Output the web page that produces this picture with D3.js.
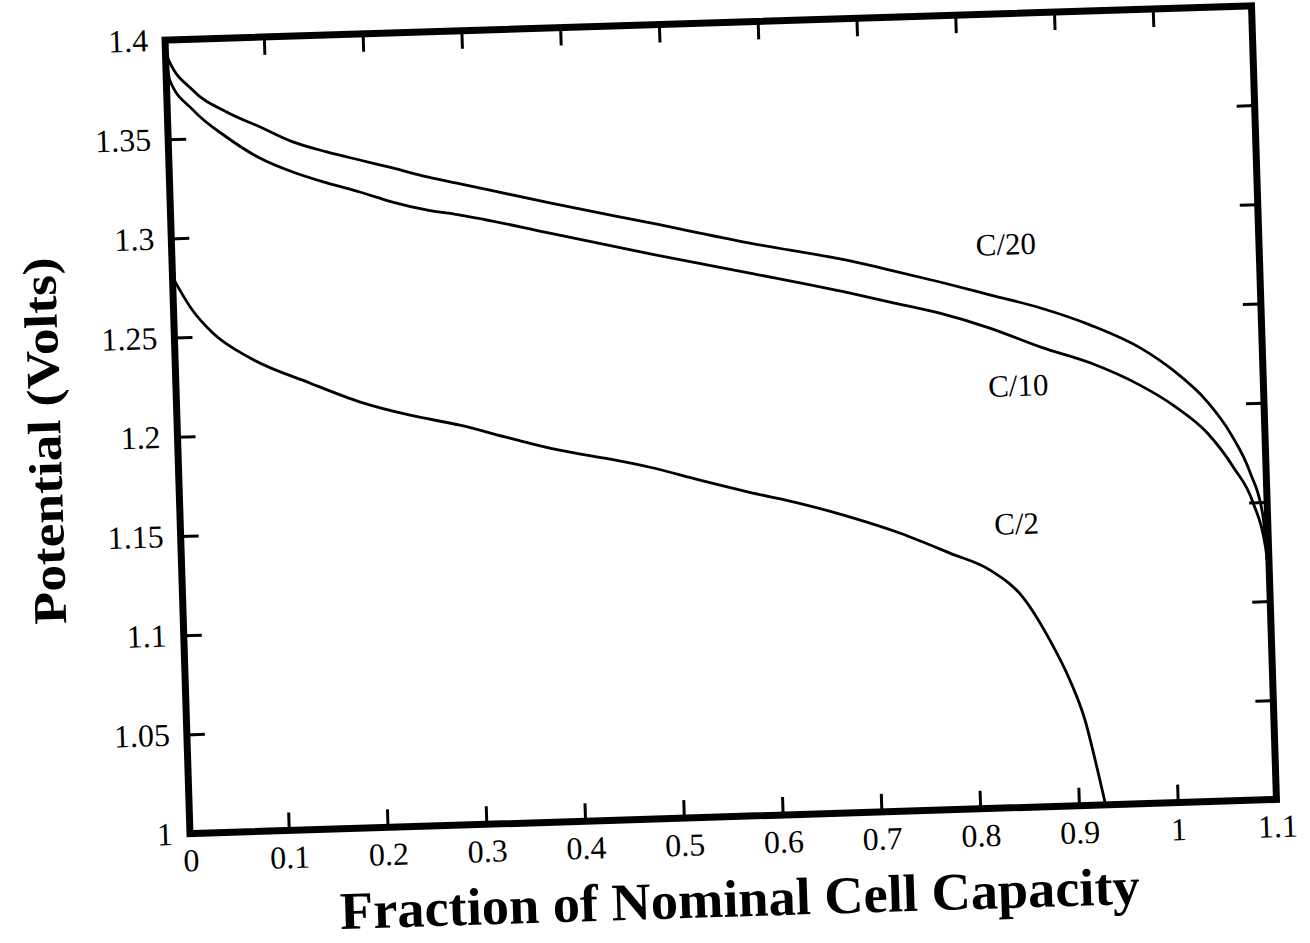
<!DOCTYPE html>
<html><head><meta charset="utf-8">
<script src="https://cdn.jsdelivr.net/npm/d3@7"></script>
<style>html,body{margin:0;padding:0;background:#fff;}svg{display:block;}</style>
</head><body>
<svg id="chart" width="1310" height="943"></svg>
<script>
// ---- data ----
const xTickValues = [0,0.1,0.2,0.3,0.4,0.5,0.6,0.7,0.8,0.9,1,1.1];
const xTickLabels = ["0","0.1","0.2","0.3","0.4","0.5","0.6","0.7","0.8","0.9","1","1.1"];
const yTickValues = [1,1.05,1.1,1.15,1.2,1.25,1.3,1.35,1.4];
const yTickLabels = ["1","1.05","1.1","1.15","1.2","1.25","1.3","1.35","1.4"];
const seriesNames = ["C/20","C/10","C/2"];
const c20x = [0,0.001,0.026,0.060,0.093,0.126,0.160,0.193,0.226,0.261,0.294,0.384,0.485,0.585,0.686,0.726,0.776,0.827,0.877,0.927,0.977,1.009,1.043,1.065,1.084,1.095,1.099];
const c20y = [1.397,1.3925,1.3745,1.3628,1.3548,1.3467,1.3411,1.3365,1.3320,1.3269,1.3229,1.3119,1.3002,1.2885,1.2779,1.2727,1.2659,1.2585,1.2512,1.2418,1.2294,1.2178,1.2012,1.1852,1.1647,1.1443,1.116];
const c10x = [0,0.001,0.0034,0.026,0.059,0.092,0.125,0.159,0.192,0.225,0.259,0.293,0.383,0.484,0.584,0.685,0.725,0.775,0.825,0.876,0.926,0.975,1.008,1.042,1.067,1.086,1.097,1.099];
const c10y = [1.392,1.3885,1.3798,1.3644,1.3502,1.3391,1.3315,1.3255,1.3204,1.3148,1.3103,1.3072,1.2967,1.2846,1.2734,1.2617,1.2566,1.2502,1.2419,1.2315,1.2227,1.2108,1.2002,1.1855,1.1680,1.1495,1.127,1.116];
const c2x = [0,0.019,0.039,0.076,0.136,0.186,0.236,0.286,0.336,0.386,0.437,0.477,0.527,0.577,0.627,0.678,0.728,0.778,0.818,0.850,0.876,0.895,0.909,0.918,0.927];
const c2y = [1.2805,1.2636,1.2517,1.2385,1.2249,1.2146,1.2072,1.2014,1.1941,1.1872,1.1819,1.1772,1.1699,1.1630,1.1567,1.1489,1.1400,1.1291,1.1199,1.1058,1.0837,1.0632,1.0428,1.0225,1.0];
const labelX = [0.844,0.852,0.846];
const labelY = [1.284,1.2127,1.1432];
const xTitle = "Fraction of Nominal Cell Capacity";
const yTitle = "Potential (Volts)";

// ---- layout ----
const W = 1087, H = 794;
const cx = 720.75, cy = 419.75;
const svg = d3.select("#chart");
const outer = svg.append("g").attr("transform", `rotate(-1.8, ${cx}, ${cy})`);
const g = outer.append("g").attr("transform", `translate(${cx - W/2},${cy - H/2})`);

const x = d3.scaleLinear().domain([0,1.1]).range([0,W]);
const y = d3.scaleLinear().domain([1,1.4]).range([H,0]);

const font = "'Liberation Serif','Times New Roman',serif";
const tickLen = 18;

function styleAxis(sel){
  sel.select(".domain").remove();
  sel.selectAll(".tick line").attr("stroke","#000").attr("stroke-width",3);
  sel.selectAll(".tick text").attr("fill","#000").style("font-family",font).style("font-size","32px");
}

const fmtX = (d,i)=>xTickLabels[i];
const fmtY = (d,i)=>yTickLabels[i];

g.append("g").attr("transform",`translate(0,${H})`)
  .call(d3.axisBottom(x).tickValues(xTickValues).tickFormat(fmtX).tickSize(-tickLen).tickPadding(15))
  .call(styleAxis);
g.append("g")
  .call(d3.axisLeft(y).tickValues(yTickValues).tickFormat(fmtY).tickSize(-tickLen).tickPadding(17))
  .call(styleAxis);
g.append("g")
  .call(d3.axisTop(x).tickValues(xTickValues).tickFormat("").tickSize(-tickLen))
  .call(styleAxis);
g.append("g").attr("transform",`translate(${W},0)`)
  .call(d3.axisRight(y).tickValues(yTickValues).tickFormat("").tickSize(-tickLen))
  .call(styleAxis);

// curves
const line = d3.line().x(d=>x(d[0])).y(d=>y(d[1])).curve(d3.curveMonotoneX);
const series = [d3.zip(c20x,c20y), d3.zip(c10x,c10y), d3.zip(c2x,c2y)];
g.selectAll("path.curve").data(series).enter().append("path")
  .attr("class","curve").attr("d",line)
  .attr("fill","none").attr("stroke","#000").attr("stroke-width",2.8)
  .attr("stroke-linejoin","round").attr("stroke-linecap","round");

// frame
g.append("rect").attr("x",0).attr("y",0).attr("width",W).attr("height",H)
  .attr("fill","none").attr("stroke","#000").attr("stroke-width",7);

// series labels
g.selectAll("text.slabel").data(seriesNames).enter().append("text")
  .attr("class","slabel")
  .attr("x",(d,i)=>x(labelX[i])).attr("y",(d,i)=>y(labelY[i]))
  .attr("text-anchor","middle").attr("dy","0.35em")
  .style("font-family",font).style("font-size","31px").text(d=>d);

// titles
g.append("text")
  .attr("x",W/2+4).attr("y",H+100)
  .attr("text-anchor","middle")
  .attr("textLength",800).attr("lengthAdjust","spacingAndGlyphs")
  .style("font-family",font).style("font-weight","bold").style("font-size","53px")
  .text(xTitle);
g.append("text")
  .attr("transform",`translate(${-131+14},${H/2}) rotate(-90)`)
  .attr("text-anchor","middle")
  .attr("textLength",367).attr("lengthAdjust","spacingAndGlyphs")
  .style("font-family",font).style("font-weight","bold").style("font-size","47px")
  .text(yTitle);
</script>
</body></html>
